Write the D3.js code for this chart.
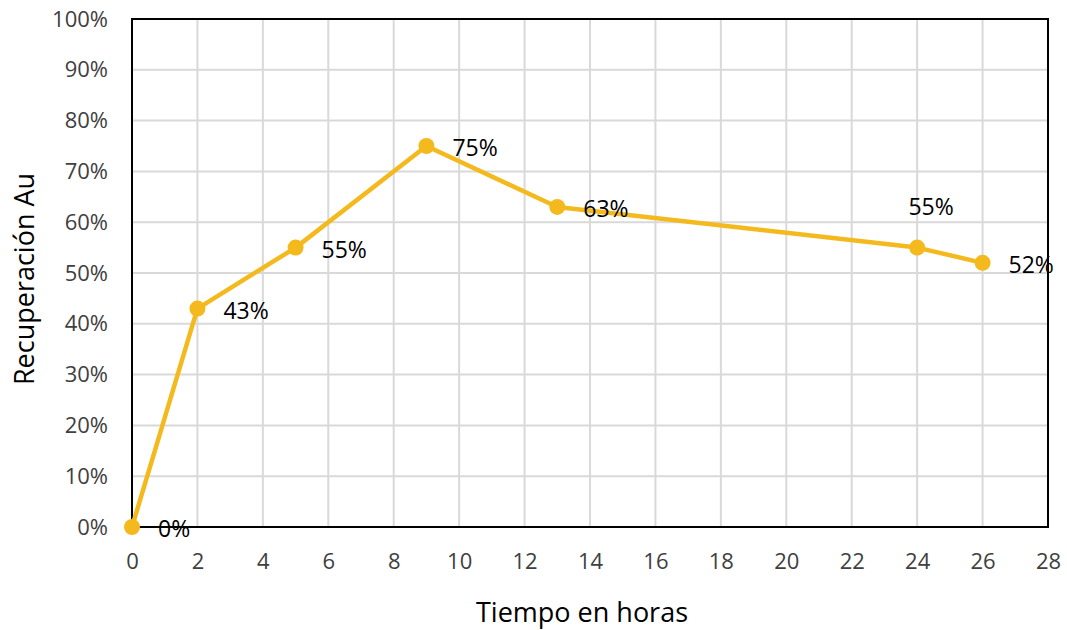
<!DOCTYPE html>
<html><head><meta charset="utf-8">
<script src="https://cdn.jsdelivr.net/npm/d3@7"></script>
<style>body{margin:0;background:#fff}svg{display:block}text{font-family:"Open Sans","Liberation Sans",sans-serif}</style>
</head><body>
<svg id="c" width="1067" height="630"></svg>
<script>
const hours = [0, 2, 5, 9, 13, 24, 26];
const recovery = [0, 43, 55, 75, 63, 55, 52];
const labelPos = ["right", "right", "right", "right", "right", "above", "right"];
const xTicks = d3.range(0, 29, 2);
const yTicks = d3.range(0, 101, 10);

const svg = d3.select("#c");
const m = {l: 132, r: 1048, t: 19, b: 527};
const x = d3.scaleLinear().domain([0, 28]).range([m.l, m.r]);
const y = d3.scaleLinear().domain([0, 100]).range([m.b, m.t]);
const FONT = '"Open Sans","Liberation Sans",sans-serif';

// grid
svg.append("g").selectAll("line").data(xTicks).join("line")
  .attr("x1", d => x(d)).attr("x2", d => x(d)).attr("y1", m.t).attr("y2", m.b)
  .attr("stroke", "#d9d9d9").attr("stroke-width", 2);
svg.append("g").selectAll("line").data(yTicks).join("line")
  .attr("y1", d => y(d)).attr("y2", d => y(d)).attr("x1", m.l).attr("x2", m.r)
  .attr("stroke", "#d9d9d9").attr("stroke-width", 2);

// frame
svg.append("rect").attr("x", m.l).attr("y", m.t).attr("width", m.r - m.l).attr("height", m.b - m.t)
  .attr("fill", "none").attr("stroke", "#000").attr("stroke-width", 2);

// axes
const xa = svg.append("g").attr("transform", `translate(0,${m.b})`)
  .call(d3.axisBottom(x).tickValues(xTicks).tickSize(0).tickPadding(26));
xa.select(".domain").remove();
xa.selectAll("text").attr("font-size", 22).attr("fill", "#404040").style("font-family", FONT);
const ya = svg.append("g").attr("transform", `translate(${m.l},0)`)
  .call(d3.axisLeft(y).tickValues(yTicks).tickFormat(d => d + "%").tickSize(0).tickPadding(24));
ya.select(".domain").remove();
ya.selectAll("text").attr("font-size", 22).attr("fill", "#404040").style("font-family", FONT);

// titles
svg.append("text").attr("x", 582).attr("y", 622).attr("text-anchor", "middle")
  .attr("font-size", 27).attr("fill", "#000").text("Tiempo en horas");
svg.append("text").attr("transform", `translate(34,${(m.t + m.b) / 2 + 6}) rotate(-90)`)
  .attr("text-anchor", "middle").attr("font-size", 27).attr("fill", "#000").text("Recuperación Au");

// line
const data = hours.map((h, i) => ({h, v: recovery[i], pos: labelPos[i]}));
svg.append("path").datum(data)
  .attr("d", d3.line().x(d => x(d.h)).y(d => y(d.v)))
  .attr("fill", "none").attr("stroke", "#F4B91C").attr("stroke-width", 4.5).attr("stroke-linejoin", "round");
svg.append("g").selectAll("circle").data(data).join("circle")
  .attr("cx", d => x(d.h)).attr("cy", d => y(d.v)).attr("r", 8).attr("fill", "#F4B91C");

svg.append("g").selectAll("text").data(data).join("text")
  .attr("x", d => d.pos === "above" ? x(d.h) + 14 : x(d.h) + 26)
  .attr("y", d => d.pos === "above" ? y(d.v) - 39 : y(d.v) + 4)
  .attr("text-anchor", d => d.pos === "above" ? "middle" : "start")
  .attr("dominant-baseline", "middle")
  .attr("font-size", 23).attr("fill", "#000").text(d => d.v + "%");
</script>
</body></html>
